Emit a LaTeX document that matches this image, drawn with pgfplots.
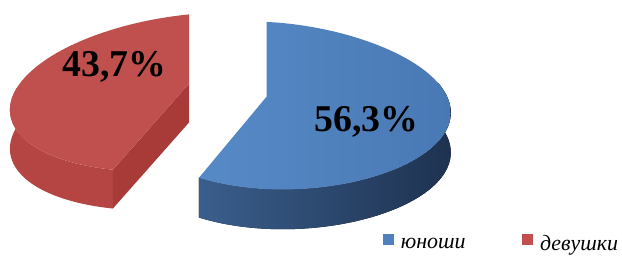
\documentclass[border=0pt]{standalone}
\usepackage{fontspec}
\setmainfont{Liberation Serif}
\usepackage{pgfplots}
\pgfplotsset{compat=1.18}
\usepgfplotslibrary{fillbetween}
\definecolor{bTopL}{RGB}{86,138,199}
\definecolor{bTopR}{RGB}{73,121,180}
\definecolor{bTop}{RGB}{79,129,189}
\definecolor{bSideL}{RGB}{58,94,140}
\definecolor{bSideR}{RGB}{30,50,80}
\definecolor{rTop}{RGB}{192,80,77}
\definecolor{rSide}{RGB}{180,69,66}
\definecolor{rFace}{RGB}{168,58,56}
% data (percent)
\def\pBoys{56.3}
\def\pGirls{43.7}
\begin{document}
\begin{tikzpicture}
\pgfmathsetmacro\aB{90-3.6*\pBoys}
\pgfmathsetmacro\aR{90+3.6*\pGirls}
\pgfmathsetmacro\Ps{1/(1+0.107*sin(\aR))}
\pgfmathsetmacro\Px{190+179*cos(\aR)*\Ps}
\pgfmathsetmacro\Py{84-77*sin(\aR)*\Ps-18*cos(\aR)*\Ps}
\pgfmathsetmacro\Pyb{\Py+39}
\begin{axis}[scale only axis, width=311pt, height=124.5pt,
  xmin=0, xmax=622, ymin=0, ymax=249, y dir=reverse,
  hide axis, clip=false,
  declare function={
    pers(\t)=1/(1+0.107*sin(\t));
    boyx(\t)=268+(166+18*cos(\t))*cos(\t)*pers(\t);
    boyy(\t)=97-83*sin(\t)*pers(\t)+8*cos(\t)*pers(\t);
    girlx(\t)=190+179*cos(\t)*pers(\t);
    girly(\t)=84-77*sin(\t)*pers(\t)-18*cos(\t)*pers(\t);
  },
  samples=100, variable=\t,
  legend columns=2,
  legend style={draw=none, fill=none, at={(axis cs:385,246)}, anchor=west,
    inner sep=0pt, outer sep=0pt,
    font=\itshape\fontsize{11}{13}\selectfont,
    /tikz/column 2/.style={column sep=26.5pt}},
]
\path (axis cs:0,0) (axis cs:622,249);
% girls slice
\addplot[forget plot, fill=rFace, draw=none] coordinates {(190,84) (\Px,\Py) (\Px,\Pyb) (190,123)} -- cycle;
\addplot[forget plot, name path=rA, draw=none, domain=170:\aR] ({girlx(\t)},{girly(\t)});
\addplot[forget plot, name path=rB, draw=none, domain=170:\aR] ({girlx(\t)},{girly(\t)+39});
\addplot[forget plot, fill=rSide, draw=none] fill between[of=rA and rB];
\addplot[forget plot, fill=rTop, draw=none, domain=90:\aR] ({girlx(\t)},{girly(\t)}) -- (axis cs:190,84) -- cycle;
% boys slice
\addplot[forget plot, name path=bA, draw=none, domain=\aB:15] ({boyx(\t)},{boyy(\t)});
\addplot[forget plot, name path=bB, draw=none, domain=\aB:15] ({boyx(\t)},{boyy(\t)+40});
\addplot[forget plot, left color=bSideL, right color=bSideR, draw=none] fill between[of=bA and bB];
\addplot[forget plot, left color=bTopL, right color=bTopR, draw=none, domain=\aB:90] ({boyx(\t)},{boyy(\t)}) -- (axis cs:268,97) -- cycle;
\node[font=\bfseries\fontsize{19}{21}\selectfont] at (axis cs:368,122) {56,3\%};
\node[font=\bfseries\fontsize{19}{21}\selectfont] at (axis cs:115,67) {43,7\%};
\addlegendimage{legend image code/.code={\fill[bTop] (0pt,0.3pt) rectangle (5pt,5.3pt); \path (6.5pt,0pt);}}
\addlegendentry{юноши}
\addlegendimage{legend image code/.code={\fill[rTop] (0pt,0.3pt) rectangle (5pt,5.3pt); \path (6.5pt,0pt);}}
\addlegendentry{девушки}
\end{axis}
\end{tikzpicture}
\end{document}
